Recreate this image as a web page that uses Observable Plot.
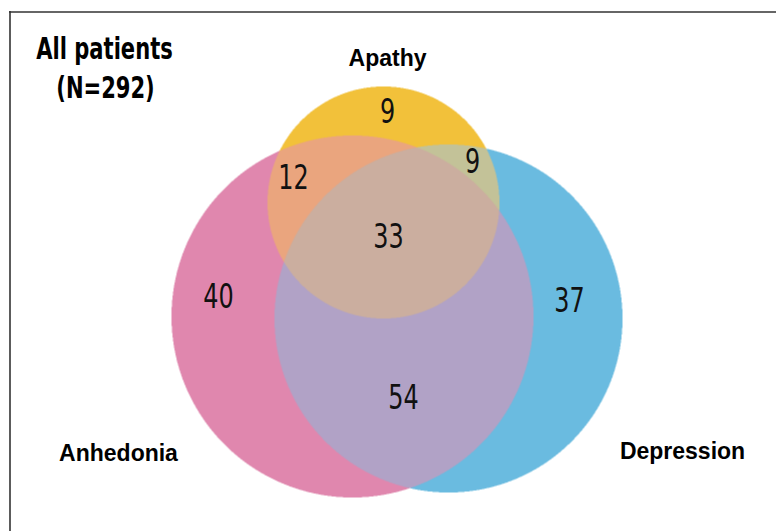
<!DOCTYPE html>
<html>
<head>
<meta charset="utf-8">
<script src="https://cdn.jsdelivr.net/npm/d3@7"></script>
<script src="https://cdn.jsdelivr.net/npm/@observablehq/plot@0.6"></script>
<style>
  html, body { margin: 0; padding: 0; background: #fff; }
  #chart svg { display: block; }
</style>
</head>
<body>
<div id="chart"></div>
<script>
// ---- data ----
const title = ["All patients", "(N=292)"];
const sets = ["Anhedonia", "Depression", "Apathy"];
// region membership keys (A = Anhedonia, D = Depression, P = Apathy) and counts
const regionKeys = ["A", "D", "P", "AD", "AP", "DP", "ADP"];
const regionCounts = [40, 37, 9, 54, 12, 9, 33];
const regionColors = ["#E087AE", "#6ABBE0", "#F2C13A", "#B1A2C6", "#EAA57E", "#C3C298", "#CBAE9F"];

// ---- layout (chart units = pixels) ----
const W = 776, H = 531;
const circleKeys = ["A", "D", "P"];
const circleCx = [352, 448, 383];
const circleCy = [316, 318, 202];
const circleR = [181, 174, 116];
const regionLabelX = [218, 569, 387, 403, 293, 472, 388];
const regionLabelY = [297, 301, 112, 398, 178, 162, 237];
const setLabelX = [118, 682, 387];
const setLabelY = [453, 451, 58];
const titleX = [104, 105];
const titleY = [49, 88];
const condense = 0.78;

const colorOf = Object.fromEntries(regionKeys.map((k, i) => [k, regionColors[i]]));

function regionAt(x, y) {
  let key = "";
  for (let i = 0; i < circleKeys.length; i++) {
    const dx = x - circleCx[i], dy = y - circleCy[i];
    if (dx * dx + dy * dy <= circleR[i] * circleR[i]) key += circleKeys[i];
  }
  return key ? colorOf[key] : "#ffffff";
}

const regions = regionKeys.map((k, i) => ({key: k, count: regionCounts[i], x: regionLabelX[i], y: regionLabelY[i]}));
const setLabels = sets.map((s, i) => ({name: s, x: setLabelX[i], y: setLabelY[i]}));
const titles = title.map((t, i) => ({text: t, x: titleX[i], y: titleY[i]}));

const condensedFont = "'Liberation Sans Narrow', 'DejaVu Sans Condensed', sans-serif";

const chart = Plot.plot({
  width: W,
  height: H,
  margin: 0,
  x: {domain: [0, W], range: [0, W], axis: null},
  y: {domain: [0, H], range: [0, H], axis: null},
  color: {type: "identity"},
  style: {background: "#fff"},
  marks: [
    Plot.raster({x1: 0, x2: W, y1: 0, y2: H, pixelSize: 0.5, fill: regionAt}),
    Plot.ruleY([11.5], {x1: 9, x2: W, stroke: "#333", strokeWidth: 1.6}),
    Plot.ruleX([9.5], {y1: 11, y2: H, stroke: "#333", strokeWidth: 1.6}),
    Plot.text(regions, {x: "x", y: "y", text: d => String(d.count), fill: "#111",
      fontSize: 34, fontFamily: condensedFont}),
    Plot.text(setLabels, {x: "x", y: "y", text: "name", fill: "#000", fontWeight: "bold",
      fontSize: 23, fontFamily: "'Liberation Sans', Arial, sans-serif"}),
    Plot.text(titles, {x: "x", y: "y", text: "text", fill: "#000", fontWeight: "bold",
      fontSize: 30, fontFamily: condensedFont})
  ]
});
document.getElementById("chart").appendChild(chart);

// narrow the condensed-style texts (numbers and title) horizontally
const textGroups = chart.querySelectorAll("g[aria-label='text']");
[textGroups[0], textGroups[2]].forEach(g => {
  if (!g) return;
  g.querySelectorAll("text").forEach(t => {
    const len = t.getComputedTextLength();
    t.setAttribute("textLength", (len * condense).toFixed(1));
    t.setAttribute("lengthAdjust", "spacingAndGlyphs");
  });
});
</script>
</body>
</html>
